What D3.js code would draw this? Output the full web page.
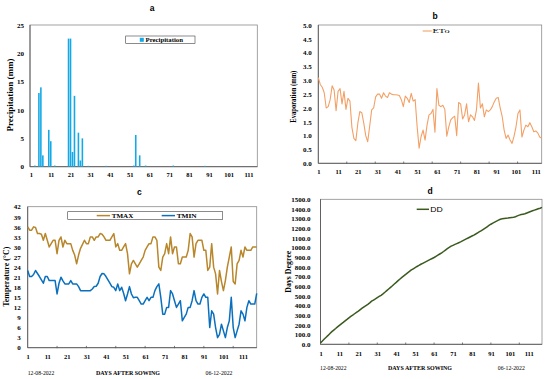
<!DOCTYPE html>
<html><head><meta charset="utf-8">
<script src="https://cdn.jsdelivr.net/npm/d3@7"></script>
<style>
body{margin:0;background:#fff}
svg{display:block}
text{font-family:"Liberation Serif","Times New Roman",serif;fill:#000}
</style>
</head><body>
<svg id="chart" width="550" height="379"></svg>
<script>
// ---------------- DATA ----------------
const dayLabels = [1, 11, 21, 31, 41, 51, 61, 71, 81, 91, 101, 111];

const precipitation = [
  0,0,0.2,0,13,14,2,0,0,6.5,
  4.5,0,0.2,0,0,0,0,0,0,22.6,
  22.6,2.6,12.5,0,6,1.1,5,0,0,0.15,
  0,0,0,0,0,0,0,0,0.15,0,
  0,0,0,0,0,0,0,0,0,0,
  0,0,0.2,5.6,0,2,0,0,0.2,0,
  0,0,0,0,0,0,0,0,0,0,
  0,0,0.2,0,0,0,0,0,0,0,
  0,0,0,0,0,0,0,0,0.15,0,
  0,0,0,0,0,0,0,0,0,0,
  0,0,0,0,0,0,0,0,0,0,
  0,0,0,0,0
];
const precipTicks = [0, 5, 10, 15, 20, 25];

const eto = [
  3.1,2.85,2.75,2.55,2.0,2.05,2.3,2.8,2.65,1.9,
  2.6,2.7,2.15,2.6,1.95,2.35,2.25,1.3,0.9,0.82,
  1.45,1.87,1.83,1.45,1.0,0.78,1.35,1.93,2.0,2.4,
  2.5,2.5,2.35,2.55,2.43,2.38,2.55,2.5,2.48,2.48,
  2.47,2.45,2.3,2.05,2.43,2.35,2.2,2.53,2.25,2.3,
  1.32,0.55,0.97,1.2,0.84,1.38,1.75,1.8,1.95,1.12,
  2.7,2.1,2.05,2.1,1.95,0.98,1.32,1.57,1.65,1.7,
  1.0,2.2,2.15,1.6,1.75,2.15,1.5,1.75,1.68,1.55,
  1.93,2.9,2.0,2.15,1.68,1.93,1.87,1.93,2.05,2.22,
  2.35,2.38,2.0,1.7,1.2,0.9,1.02,0.84,0.72,0.97,
  1.32,1.8,1.93,0.95,1.2,1.38,1.32,1.47,1.32,1.14,
  1.17,1.1,0.95,0.9
];
const etoTicks = [0, 0.5, 1.0, 1.5, 2.0, 2.5, 3.0, 3.5, 4.0, 4.5, 5.0];

const tmax = [
  36,35,35,36,35.8,34,34,33.8,32,34,
  32,30,31,32,32,28,32,33,30,32,
  31,31,31,29,27.6,25,27.6,29.6,30.8,32,
  31,31,33,33,32,33,33,34,33.8,33,
  32,32,32,33,34,30,31,29,29,30,
  31,28,22,25,26,25,24,25,26,27,
  29,30,31,31,33,33,32,24,23,27,
  28,31,28,33,28,30,30,25,25,27,
  27,27,29,34,33,27,31,32,32,32,
  29,29,23,24,31,24,22,16,23,19.7,
  17,20,24,27,30,19.7,19,25,26,29,
  27,30,29,29,29,30,30,30
];
const tmin = [
  23,21.2,21.2,21.8,23,22.1,21.2,20.2,19.2,21.2,
  21.2,20,20,20,20,16,19.2,21,19.9,19,
  19,19,20,19,19,19,18.2,17,17,17,
  17,17,17,17.5,18.2,18.3,19.2,21.2,22.1,22,
  21.2,20.2,19.2,18.2,18,17,19,17,18,16.2,
  14,16,18.2,16,14.9,15,15,14,13,13,
  14,15,14,15,15,17,18.2,19,15,10,
  10,12,12,17,16,14,12,13,14,8,
  9,10,12,12,14,17,14,13,13,15,
  16,15,15,6,11,10,6,3,4,7,
  5,3,6,8,15,6,3,5,7,11,
  10,8,12,14,13,13,13,16.2
];
const tempTicks = [0, 3, 6, 9, 12, 15, 18, 21, 24, 27, 30, 33, 36, 39, 42];

const degreeDays = [
  15,34,54,73,92,112,131,147,163,180,
  196,212,227,243,258,274,289,302,316,330,
  344,359,374,388,401,414,429,446,458,470,
  483,495,507,522,538,555,572,589,606,624,
  641,659,676,693,708,723,739,754,769,781,
  793,805,816,828,838,848,858,868,878,888,
  898,910,922,934,946,960,975,990,1003,1015,
  1024,1033,1042,1051,1060,1070,1080,1090,1100,1110,
  1120,1130,1141,1153,1165,1177,1190,1203,1216,1229,
  1242,1254,1264,1274,1284,1294,1298,1301,1304,1306,
  1309,1312,1315,1320,1328,1336,1342,1346,1350,1358,
  1366,1374,1381,1388,1395,1402,1408,1416
];
const ddTicks = [0,100,200,300,400,500,600,700,800,900,1000,1100,1200,1300,1400,1500];

const dateStart = "12-08-2022", dateEnd = "06-12-2022";
const xTitle = "DAYS AFTER SOWING";

// ---------------- HELPERS ----------------
const svg = d3.select("#chart");
svg.append("rect").attr("width",550).attr("height",379).attr("fill","#fff");

const BORDER = "#8c8c8c";
const AXIS = "#595959";

function frame(x0, x1, y0, y1) {
  svg.append("rect").attr("x", x0).attr("y", y0).attr("width", x1 - x0).attr("height", y1 - y0)
    .attr("fill", "none").attr("stroke", BORDER).attr("stroke-width", 0.8);
  svg.append("line").attr("x1", x0).attr("x2", x1).attr("y1", y1).attr("y2", y1)
    .attr("stroke", AXIS).attr("stroke-width", 0.9);
  svg.append("line").attr("x1", x0).attr("x2", x0).attr("y1", y0).attr("y2", y1)
    .attr("stroke", AXIS).attr("stroke-width", 0.9);
}
function yAxis(scale, x0, ticks, fmt, pad) {
  const g = svg.append("g").attr("transform", `translate(${x0},0)`)
    .call(d3.axisLeft(scale).tickValues(ticks).tickFormat(fmt).tickSize(0).tickPadding(pad));
  g.select(".domain").remove();
  g.selectAll("text").attr("font-family", '"Liberation Serif",serif').attr("font-size", 7)
    .attr("font-weight", "bold").attr("fill", "#000");
}
function xAxis(scale, yb, labelY, tickDays) {
  const g = svg.append("g").attr("transform", `translate(0,${yb})`)
    .call(d3.axisBottom(scale).tickValues(dayLabels).tickFormat(d3.format("d")).tickSize(0).tickPadding(labelY));
  g.select(".domain").remove();
  g.selectAll("text").attr("font-family", '"Liberation Serif",serif').attr("font-size", 6.5)
    .attr("font-weight", "bold").attr("fill", "#000");
  if (tickDays) {
    svg.append("g").selectAll("line").data(tickDays).join("line")
      .attr("x1", d => scale(d)).attr("x2", d => scale(d))
      .attr("y1", yb - 1.8).attr("y2", yb + 0.5).attr("stroke", AXIS).attr("stroke-width", 0.8);
  }
}
function yTitle(txt, cx, cy, len) {
  svg.append("text").attr("transform", `translate(${cx},${cy}) rotate(-90)`)
    .attr("text-anchor", "middle").attr("dominant-baseline", "central")
    .attr("font-size", 7.5).attr("font-weight", "bold")
    .attr("textLength", len).attr("lengthAdjust", "spacingAndGlyphs").text(txt);
}
function panelTitle(txt, x, y) {
  svg.append("text").attr("x", x).attr("y", y).attr("text-anchor", "middle")
    .attr("dominant-baseline", "central")
    .style("font-family", '"Liberation Sans",Arial,sans-serif')
    .attr("font-size", 8.5).attr("font-weight", "bold").text(txt);
}
function bottomTexts(y, c1, cMid, c2) {
  svg.append("text").attr("x", c1).attr("y", y).attr("text-anchor", "middle")
    .attr("font-size", 5.6).attr("textLength", 26.5).attr("lengthAdjust", "spacingAndGlyphs").text(dateStart);
  svg.append("text").attr("x", cMid).attr("y", y).attr("text-anchor", "middle")
    .attr("font-size", 6).attr("font-weight", "bold")
    .attr("textLength", 64).attr("lengthAdjust", "spacingAndGlyphs").text(xTitle);
  svg.append("text").attr("x", c2).attr("y", y).attr("text-anchor", "middle")
    .attr("font-size", 5.6).attr("textLength", 27).attr("lengthAdjust", "spacingAndGlyphs").text(dateEnd);
}

// ---------------- PANEL A : Precipitation ----------------
{
  const x0 = 30, x1 = 257.3, yT = 25, yB = 166.7;
  const days = d3.range(1, precipitation.length + 1);
  const x = d3.scaleBand().domain(days).range([x0, x1]).paddingInner(0.2).paddingOuter(0.1);
  const xl = d3.scaleLinear().domain([1, precipitation.length]).range([x0 + x.step() / 2, x1 - x.step() / 2]);
  const y = d3.scaleLinear().domain([0, 25]).range([yB, yT]);
  frame(x0, x1, yT, yB);
  svg.append("g").selectAll("rect").data(precipitation.map((v, i) => ({ d: days[i], v })).filter(o => o.v > 0))
    .join("rect")
    .attr("x", o => x(o.d)).attr("width", x.bandwidth())
    .attr("y", o => y(o.v)).attr("height", o => yB - y(o.v))
    .attr("fill", "#14a9e6");
  yAxis(y, x0, precipTicks, d3.format("d"), 6);
  xAxis(xl, yB, 6, null);
  yTitle("Precipitation (mm)", 10, 95, 73);
  panelTitle("a", 152, 7.5);
  // legend
  svg.append("rect").attr("x", 125.7).attr("y", 36).attr("width", 69.3).attr("height", 7.4)
    .attr("fill", "#fff").attr("stroke", "#404040").attr("stroke-width", 0.6);
  svg.append("rect").attr("x", 139.8).attr("y", 37.8).attr("width", 4).attr("height", 4).attr("fill", "#14a9e6");
  svg.append("text").attr("x", 145.5).attr("y", 42.1).attr("font-size", 6.5).attr("font-weight", "bold")
    .attr("textLength", 37.5).attr("lengthAdjust", "spacingAndGlyphs").text("Precipitation");
}

// ---------------- PANEL B : ETo ----------------
{
  const x0 = 318.3, x1 = 541.7, yT = 25, yB = 163.3;
  const days = d3.range(1, eto.length + 1);
  const x = d3.scaleLinear().domain([1, eto.length]).range([x0, x1]);
  const y = d3.scaleLinear().domain([0, 5]).range([yB, yT]);
  frame(x0, x1, yT, yB);
  svg.append("path").datum(eto)
    .attr("d", d3.line().x((v, i) => x(days[i])).y(v => y(v)))
    .attr("fill", "none").attr("stroke", "#f3a066").attr("stroke-width", 1.1).attr("stroke-linejoin", "round");
  yAxis(y, x0, etoTicks, d3.format(".1f"), 6.5);
  xAxis(x, yB, 6.5, [15.4, 29.8, 44.2, 58.6, 73, 87.4, 101.8]);
  yTitle("Evaporation (mm)", 293.3, 96.7, 52);
  panelTitle("b", 435, 15.5);
  svg.append("line").attr("x1", 422.7).attr("x2", 431.7).attr("y1", 31).attr("y2", 31)
    .attr("stroke", "#f3a066").attr("stroke-width", 1.1);
  svg.append("text").attr("x", 432.6).attr("y", 33.4).attr("font-size", 7)
    .attr("textLength", 17).attr("lengthAdjust", "spacingAndGlyphs").text("ETo");
}

// ---------------- PANEL C : Temperature ----------------
{
  const x0 = 27.7, x1 = 256.7, yT = 206.7, yB = 347.7;
  const days = d3.range(1, tmax.length + 1);
  const x = d3.scaleLinear().domain([1, tmax.length]).range([x0, x1]);
  const y = d3.scaleLinear().domain([0, 42]).range([yB, yT]);
  frame(x0, x1, yT, yB);
  const line = d3.line().x((v, i) => x(days[i])).y(v => y(v));
  svg.append("path").datum(tmax).attr("d", line).attr("fill", "none")
    .attr("stroke", "#b8862b").attr("stroke-width", 1.5).attr("stroke-linejoin", "round");
  svg.append("path").datum(tmin).attr("d", line).attr("fill", "none")
    .attr("stroke", "#0a70be").attr("stroke-width", 1.5).attr("stroke-linejoin", "round");
  yAxis(y, x0, tempTicks, d3.format("d"), 7);
  xAxis(x, yB, 7, [16, 31, 46, 61, 76, 91, 106]);
  yTitle("Temperature (°C)", 6, 276.7, 60);
  panelTitle("c", 139.3, 192.3);
  bottomTexts(374.6, 41, 128, 219);
  // legend
  svg.append("rect").attr("x", 67.7).attr("y", 211.7).attr("width", 155).attr("height", 7.6)
    .attr("fill", "#fff").attr("stroke", "#404040").attr("stroke-width", 0.6);
  svg.append("line").attr("x1", 96.7).attr("x2", 110).attr("y1", 215.6).attr("y2", 215.6)
    .attr("stroke", "#b8862b").attr("stroke-width", 1.5);
  svg.append("text").attr("x", 111.7).attr("y", 218).attr("font-size", 6.5).attr("font-weight", "bold")
    .attr("textLength", 21.6).attr("lengthAdjust", "spacingAndGlyphs").text("TMAX");
  svg.append("line").attr("x1", 161.7).attr("x2", 175).attr("y1", 215.6).attr("y2", 215.6)
    .attr("stroke", "#0a70be").attr("stroke-width", 1.5);
  svg.append("text").attr("x", 176.7).attr("y", 218).attr("font-size", 6.5).attr("font-weight", "bold")
    .attr("textLength", 20).attr("lengthAdjust", "spacingAndGlyphs").text("TMIN");
}

// ---------------- PANEL D : Degree days ----------------
{
  const x0 = 320.5, x1 = 542, yT = 199.3, yB = 344.3;
  const days = d3.range(1, degreeDays.length + 1);
  const x = d3.scaleLinear().domain([1, degreeDays.length]).range([x0, x1]);
  const y = d3.scaleLinear().domain([0, 1500]).range([yB, yT]);
  frame(x0, x1, yT, yB);
  svg.append("path").datum(degreeDays)
    .attr("d", d3.line().x((v, i) => x(days[i])).y(v => y(v)))
    .attr("fill", "none").attr("stroke", "#3a5a1e").attr("stroke-width", 1.5).attr("stroke-linejoin", "round");
  yAxis(y, x0, ddTicks, d3.format(".1f"), 10);
  xAxis(x, yB, 7, [16, 31, 46, 61, 76, 91, 106]);
  yTitle("Days Degree", 288.3, 271.7, 42);
  panelTitle("d", 430, 191);
  bottomTexts(370.2, 333.3, 420, 511.3);
  svg.append("line").attr("x1", 416.7).attr("x2", 429).attr("y1", 209.3).attr("y2", 209.3)
    .attr("stroke", "#3a5a1e").attr("stroke-width", 1.5);
  svg.append("text").attr("x", 430.3).attr("y", 211.8).attr("font-size", 7.5)
    .style("font-family", '"Liberation Sans",Arial,sans-serif')
    .attr("textLength", 12.5).attr("lengthAdjust", "spacingAndGlyphs").text("DD");
}
</script>
</body></html>
